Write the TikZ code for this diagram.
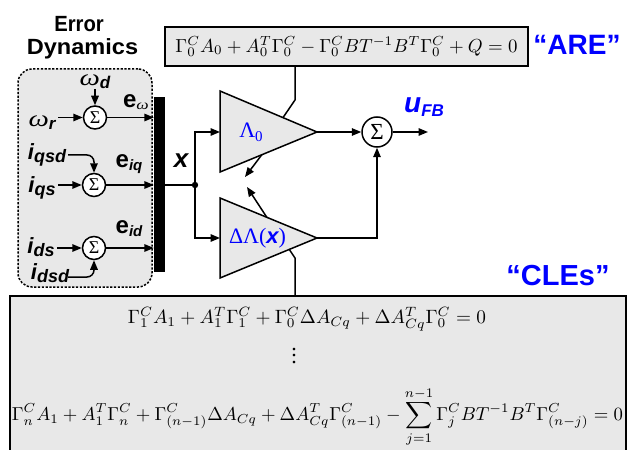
\documentclass[tikz,border=0pt]{standalone}
\usepackage{fontspec}
\setmainfont{Liberation Serif}
\newfontfamily\arial{Liberation Sans}
\usetikzlibrary{arrows.meta}
\definecolor{boxgray}{RGB}{232,232,232}
\newcommand\fs[1]{\fontsize{#1}{#1}\selectfont}
\newcommand\bis{\arial\bfseries\itshape}
% main symbol, its size, subscript, its size, drop
\newcommand\ms[5]{{\fs{#2}#1}\raisebox{-#5pt}{\fs{#4}#3}}
\newcommand\om{\scalebox{1.25}[1]{\itshape ω}}
\newcommand\tallvdots{\vbox{\baselineskip=6.5pt\lineskiplimit=-10pt\hbox{.}\hbox{.}\hbox{.}}}
\begin{document}
\begin{tikzpicture}[x=1pt,y=-1pt,
 wire/.style={line width=1.5pt},
 arr/.style={wire,-{Triangle[length=9.5pt,width=7.5pt]}},
 sumS/.style={circle,draw,line width=1.5pt,fill=white,minimum size=23pt,inner sep=0pt,font=\fs{18}},
 sumB/.style={circle,draw,line width=1.5pt,fill=white,minimum size=30pt,inner sep=0pt,font=\fs{23}},
 eqbox/.style={draw,line width=1.8pt,fill=boxgray,inner sep=0pt},
 amp/.style={draw,line width=1.5pt,fill=boxgray,line join=miter},
 lab/.style={inner sep=0pt},
 title/.style={inner sep=0pt,text=blue,font=\arial\bfseries\fs{28}},
]
\useasboundingbox (0,0) rectangle (628,449);
\clip (0,0) rectangle (628,449);

% Error dynamics block
\node[lab,anchor=base,font=\arial\bfseries\fs{22}] (ed1) at (79,32) {\scalebox{0.92}[1]{Error}};
\node[lab,anchor=base,font=\arial\bfseries\fs{22}] (ed2) at (82.5,55) {\scalebox{1.07}[1]{Dynamics}};
\node[draw,line width=1.5pt,dash pattern=on 2.2pt off 1.6pt,rounded corners=14pt,fill=boxgray,minimum width=134pt,minimum height=218pt,inner sep=0pt] (edbox) at (85,178) {};
\node[fill=black,minimum width=11pt,minimum height=175pt,inner sep=0pt] (bar) at (159.5,184.5) {};

\node[sumS] (s1) at (95,117.5) {Σ};
\node[sumS] (s2) at (94,185) {Σ};
\node[sumS] (s3) at (94,248) {Σ};

\node[lab] (wd) at (95,82) {\ms{\om}{23}{\bis d}{17}{3}};
\node[lab] (wr) at (42,123) {\ms{\om}{23}{\bis r}{17}{3}};
\node[lab] (ew) at (136,102) {\ms{\arial\bfseries e}{24}{\om}{14}{2}};
\node[lab] (iqsd) at (47,155) {\ms{\bis i}{22}{\bis qsd}{18}{3}};
\node[lab] (eiq) at (129,164) {\ms{\arial\bfseries e}{24}{\bis iq}{15}{3}};
\node[lab] (iqs) at (42,188) {\ms{\bis i}{22}{\bis qs}{18}{3}};
\node[lab] (eid) at (129,229) {\ms{\arial\bfseries e}{24}{\bis id}{15}{3}};
\node[lab] (ids) at (41,247) {\ms{\bis i}{22}{\bis ds}{18}{3}};
\node[lab] (idsd) at (50,273) {\ms{\bis i}{22}{\bis dsd}{18}{3}};

\coordinate (wdS) at (95,89);
\coordinate (wrS) at (58,117.5);
\coordinate (iqsdS) at (68,155);
\coordinate (iqsdK) at (94,155);
\coordinate (iqsS) at (58,185);
\coordinate (idsS) at (57,248);
\coordinate (idsdS) at (68,277);
\coordinate (idsdK) at (94,277);

\draw[arr] (wdS) -- (s1.north);
\draw[arr] (wrS) -- (s1.west);
\draw[arr,rounded corners=7pt] (iqsdS) -- (iqsdK) -- (s2.north);
\draw[arr] (iqsS) -- (s2.west);
\draw[arr] (idsS) -- (s3.west);
\draw[arr,rounded corners=7pt] (idsdS) -- (idsdK) -- (s3.south);
\draw[arr] (s1.east) -- (s1.east -| bar.west);
\draw[arr] (s2.east) -- (s2.east -| bar.west);
\draw[arr] (s3.east) -- (s3.east -| bar.west);

% x signal
\coordinate (J) at (195,185);
\node[lab,font=\bis\fs{26}] (xl) at (181,161) {x};
\draw[wire] (bar.east |- J) -- (J);
\fill (J) circle (3.2pt);

% amplifiers
\coordinate (L0a) at (220,91);
\coordinate (L0b) at (220,172);
\coordinate (L0t) at (317,132);
\coordinate (DLa) at (220,198);
\coordinate (DLb) at (220,278);
\coordinate (DLt) at (317,238);
\draw[amp] (L0a) -- (L0t) -- (L0b) -- cycle;
\draw[amp] (DLa) -- (DLt) -- (DLb) -- cycle;
\coordinate (L0in) at (220,132);
\coordinate (DLin) at (220,238);
\draw[arr] (J) |- (L0in);
\draw[arr] (J) |- (DLin);
\node[lab,text=blue] (l0) at (251,132) {\ms{Λ}{22}{0}{15}{4}};
\node[lab,text=blue,font=\fs{22}] (dl) at (257.5,238) {ΔΛ({\bis x})};

% adaptation arrows
\coordinate (a1s) at (262,154.5);
\coordinate (a1e) at (245,177);
\coordinate (a2s) at (267,217.6);
\coordinate (a2e) at (247,187);
\draw[arr] (a1s) -- (a1e);
\draw[arr] (a2s) -- (a2e);

% output sum
\node[sumB] (s4) at (377,132) {Σ};
\coordinate (uS) at (428,132);
\draw[arr] (L0t) -- (s4.west);
\draw[arr] (s4.east) -- (uS);
\draw[arr] (DLt) -| (s4.south);
\node[lab,anchor=base west,text=blue] (ufb) at (404,113) {{\bis\fs{28}u}\raisebox{-4pt}{\bis\fs{17}FB}};

% ARE box
\node[eqbox,minimum width=363pt,minimum height=39pt] (are) at (346.5,46.5) {\resizebox{342pt}{!}{$\Gamma_0^C A_0 + A_0^T\Gamma_0^C - \Gamma_0^C B T^{-1} B^T \Gamma_0^C + Q = 0$}};
\node[title,anchor=base] (arel) at (577,55) {“ARE”};
\coordinate (areK) at (295,100);
\coordinate (areT) at (283,117.6);
\draw[wire] (are.south -| areK) -- (areK) -- (areT);

% CLE box
\node[eqbox,minimum width=616pt,minimum height=200pt] (cle) at (318,396) {};
\node[title,anchor=base,font=\arial\bfseries\fs{29}] (clel) at (558,285) {“CLEs”};
\coordinate (cleT) at (289,249);
\coordinate (cleK) at (295,258);
\draw[wire] (cleT) -- (cleK) -- (cleK |- cle.north);

\node[lab] (eq1) at (307,319) {\resizebox{358pt}{!}{$\Gamma_1^C A_1 + A_1^T\Gamma_1^C + \Gamma_0^C \Delta A_{Cq} + \Delta A_{Cq}^T \Gamma_0^C = 0$}};
\node[lab,font=\fs{22}] (eqd) at (294,356) {\tallvdots};
\node[lab] (eq3) at (317.5,417) {\resizebox{611pt}{!}{$\displaystyle \Gamma_n^C A_1 + A_1^T\Gamma_n^C + \Gamma_{(n-1)}^C \Delta A_{Cq} + \Delta A_{Cq}^T \Gamma_{(n-1)}^C - \sum_{j=1}^{n-1} \Gamma_j^C B T^{-1} B^T \Gamma_{(n-j)}^C = 0$}};
\end{tikzpicture}
\end{document}
